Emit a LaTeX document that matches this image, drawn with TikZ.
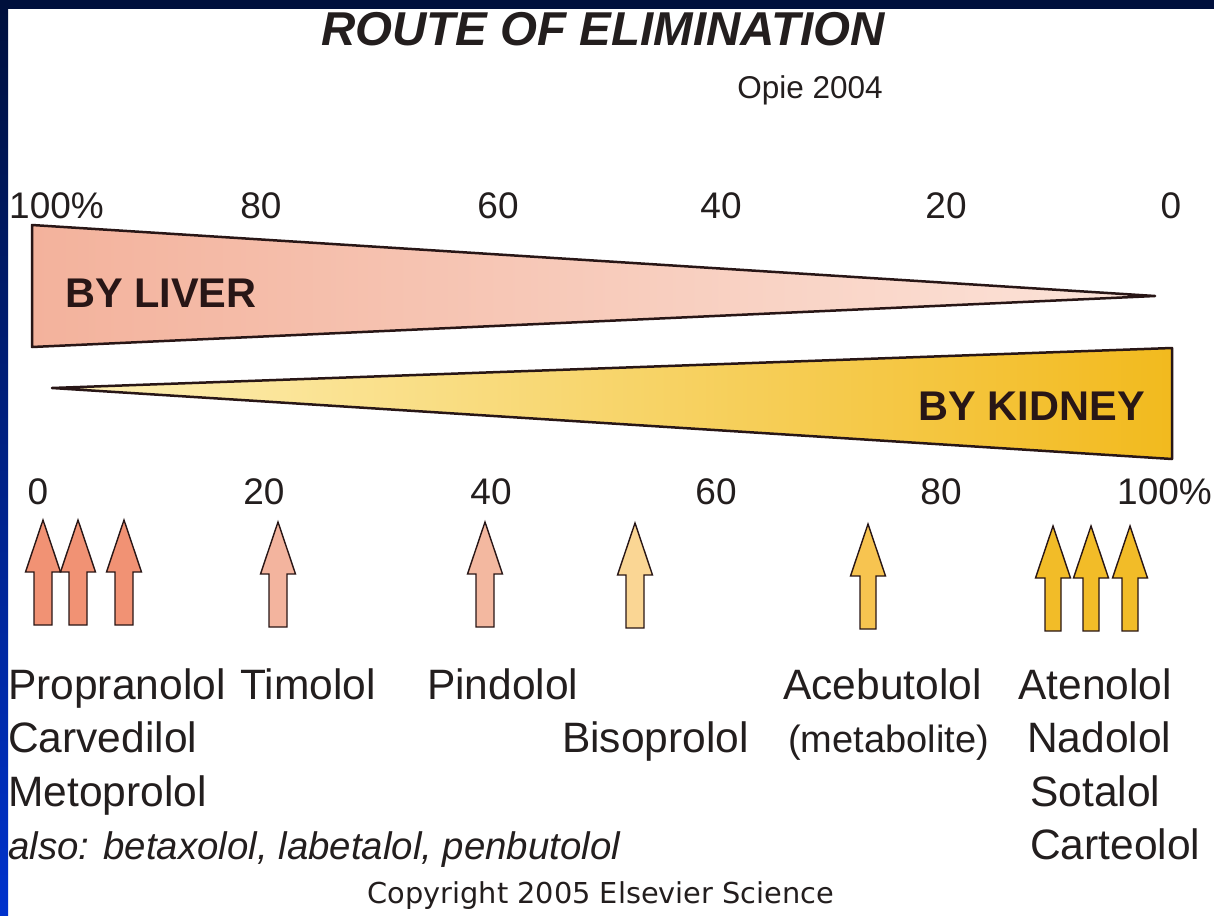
\documentclass[tikz,border=0pt]{standalone}
\usepackage{fontspec}
\setmainfont{Liberation Sans}
\newfontfamily\cpfont{DejaVu Sans}
\definecolor{navy}{RGB}{0,16,60}
\definecolor{brightblue}{RGB}{0,50,205}
\definecolor{ink}{RGB}{35,30,30}
\definecolor{edge}{RGB}{40,22,22}
\definecolor{liverL}{RGB}{243,178,156}
\definecolor{liverR}{RGB}{252,228,218}
\definecolor{kidL}{RGB}{253,240,185}
\definecolor{kidR}{RGB}{242,186,30}
\definecolor{arrA}{RGB}{241,146,116}
\definecolor{arrT}{RGB}{243,180,158}
\definecolor{arrP}{RGB}{243,184,160}
\definecolor{arrB}{RGB}{250,214,148}
\definecolor{arrC}{RGB}{247,196,80}
\definecolor{arrK}{RGB}{242,188,40}
\newcommand{\blkarrow}[4]{% x, tip y, colour, shaft half width
  \draw[arrowline, fill=#3] (#1,#2) -- (#1+17.5,#2+52) -- (#1+#4,#2+52) -- (#1+#4,#2+105)
    -- (#1-#4,#2+105) -- (#1-#4,#2+52) -- (#1-17.5,#2+52) -- cycle;}
\tikzset{
  arrowline/.style={draw=edge, line width=1.4pt, line join=miter},
  wedge/.style={draw=edge, line width=2.5pt, line join=round},
  txt/.style={inner sep=0pt, text=ink, font=\fontsize{42.5}{50}\selectfont},
  num/.style={inner sep=0pt, text=ink, font=\fontsize{37}{44}\selectfont},
  band/.style={inner sep=0pt, text=edge, font=\fontsize{41.5}{48}\selectfont\bfseries}
}
\begin{document}
\begin{tikzpicture}[x=1pt,y=-1pt]
\useasboundingbox (0,0) rectangle (1214,915);
\fill[white] (0,0) rectangle (1214,915);
% frame
\shade[top color=navy, bottom color=brightblue] (0,0) rectangle (8,915);
\fill[navy] (0,0) rectangle (1214,9);
% title
\node[inner sep=0pt, text=ink, anchor=base, font=\fontsize{47.5}{55}\selectfont\bfseries\itshape] (title) at (603,46) {ROUTE OF ELIMINATION};
\node[inner sep=0pt, text=ink, anchor=base east, font=\fontsize{31.5}{38}\selectfont] (opie) at (883,99) {Opie 2004};
% top scale
\node[num, anchor=base west] (t100) at (9,218) {100\%};
\node[num, anchor=base] (t80) at (261,218) {80};
\node[num, anchor=base] (t60) at (498,218) {60};
\node[num, anchor=base] (t40) at (721,218) {40};
\node[num, anchor=base] (t20) at (946,218) {20};
\node[num, anchor=base] (t0) at (1171,218) {0};
% wedges
\path[wedge, left color=liverL, right color=liverR] (32,225) -- (1155,296) -- (32,347) -- cycle;
\path[wedge, left color=kidL, right color=kidR] (52,388) -- (1172,348) -- (1172,459) -- cycle;
\node[band, anchor=base west] (liver) at (65,307) {BY LIVER};
\node[band, anchor=base east] (kidney) at (1145,420) {BY KIDNEY};
% bottom scale
\node[num, anchor=base] (b0) at (38,504) {0};
\node[num, anchor=base] (b20) at (264,504) {20};
\node[num, anchor=base] (b40) at (491,504) {40};
\node[num, anchor=base] (b60) at (716,504) {60};
\node[num, anchor=base] (b80) at (941,504) {80};
\node[num, anchor=base east] (b100) at (1212,504) {100\%};
% arrows
\blkarrow{43}{520}{arrA}{9}
\blkarrow{78}{520}{arrA}{9}
\blkarrow{124}{520}{arrA}{9}
\blkarrow{278}{522}{arrT}{9}
\blkarrow{485}{522}{arrP}{9}
\blkarrow{635}{523}{arrB}{9}
\blkarrow{868}{524}{arrC}{8}
\blkarrow{1053}{526}{arrK}{8}
\blkarrow{1091}{526}{arrK}{8}
\blkarrow{1130}{526}{arrK}{8}
% drug names
\node[txt, anchor=base west] (prop) at (8,699) {Propranolol};
\node[txt, anchor=base west] (timo) at (240,699) {Timolol};
\node[txt, anchor=base west] (pind) at (427,699) {Pindolol};
\node[txt, anchor=base west] (aceb) at (783,699) {Acebutolol};
\node[txt, anchor=base west] (aten) at (1018,699) {Atenolol};
\node[txt, anchor=base west] (carv) at (8,752) {Carvedilol};
\node[txt, anchor=base west] (biso) at (562,752) {Bisoprolol};
\node[inner sep=0pt, text=ink, font=\fontsize{38}{45}\selectfont, anchor=base west] (meta) at (788,752) {(metabolite)};
\node[txt, anchor=base west] (nado) at (1027,752) {Nadolol};
\node[txt, anchor=base west] (meto) at (8,806) {Metoprolol};
\node[txt, anchor=base west] (sota) at (1030,806) {Sotalol};
\node[inner sep=0pt, text=ink, font=\fontsize{38.4}{45}\selectfont\itshape, anchor=base west] (also) at (8,859) {also: betaxolol, labetalol, penbutolol};
\node[txt, anchor=base west] (cart) at (1030,859) {Carteolol};
\node[inner sep=0pt, text=ink, font=\fontsize{28.8}{34}\cpfont, anchor=base] (copy) at (601,903) {Copyright 2005 Elsevier Science};
\end{tikzpicture}
\end{document}
